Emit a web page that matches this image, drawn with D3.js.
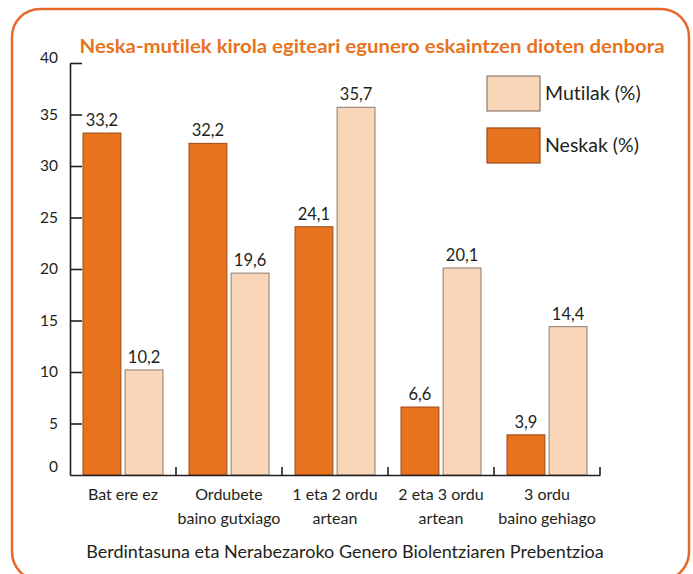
<!DOCTYPE html>
<html><head><meta charset="utf-8">
<script src="https://cdn.jsdelivr.net/npm/d3@7"></script>
<style>body{margin:0;background:#fff}svg{display:block}text{font-family:Lato,"Open Sans",sans-serif;font-variant-ligatures:none;font-feature-settings:"liga" 0,"clig" 0}</style>
</head><body>
<svg id="c" width="693" height="574"></svg>
<script>
const categories = [["Bat ere ez"],["Ordubete","baino gutxiago"],["1 eta 2 ordu","artean"],["2 eta 3 ordu","artean"],["3 ordu","baino gehiago"]];
const seriesNames = ["Neskak (%)","Mutilak (%)"];
const neskak = [33.2, 32.2, 24.1, 6.6, 3.9];
const mutilak = [10.2, 19.6, 35.7, 20.1, 14.4];
const yTicks = [0,5,10,15,20,25,30,35,40];
const title = "Neska-mutilek kirola egiteari egunero eskaintzen dioten denbora";
const source = "Berdintasuna eta Nerabezaroko Genero Biolentziaren Prebentzioa";

const colors = {"Neskak (%)":"#E8731E","Mutilak (%)":"#FAD6B8"};
const strokes = {"Neskak (%)":"#9c4a14","Mutilak (%)":"#8c7b6e"};
const svg = d3.select("#c");

svg.append("rect").attr("x",12).attr("y",9).attr("width",677).attr("height",571)
  .attr("rx",28).attr("fill","#fff").attr("stroke","#E8672A").attr("stroke-width",2.5);

svg.append("text").attr("x",372).attr("y",53).attr("text-anchor","middle")
  .attr("fill","#E8731E").attr("font-weight",700).attr("font-size",18)
  .attr("textLength",585).attr("lengthAdjust","spacingAndGlyphs").text(title);

const idx = d3.range(categories.length);
const x0 = d3.scaleBand().domain(idx).range([70,600]).padding(0);
const x1 = d3.scaleBand().domain(seriesNames).range([13, x0.bandwidth()-13]).paddingInner(0.1);
const y = d3.scaleLinear().domain([0,40]).range([475,63]);

const data = idx.flatMap(i => [
  {i, s:"Neskak (%)", v:neskak[i]},
  {i, s:"Mutilak (%)", v:mutilak[i]}
]);

svg.append("g").selectAll("rect").data(data).join("rect")
  .attr("x", d => x0(d.i)+x1(d.s)).attr("width", x1.bandwidth())
  .attr("y", d => y(d.v)).attr("height", d => y(0)-y(d.v))
  .attr("fill", d => colors[d.s]).attr("stroke", d => strokes[d.s]).attr("stroke-width",1);

svg.append("g").selectAll("text").data(data).join("text")
  .attr("x", d => x0(d.i)+x1(d.s)+x1.bandwidth()/2).attr("y", d => y(d.v)-7)
  .attr("text-anchor","middle").attr("font-size",16.5).attr("fill","#231f20")
  .text(d => d3.format(".1f")(d.v).replace(".",","));

// y axis
const yAxis = d3.axisLeft(y).tickValues(yTicks).tickSizeInner(-12).tickSizeOuter(0).tickPadding(12);
const gy = svg.append("g").attr("transform","translate(70,0)").call(yAxis);
gy.select(".domain").attr("stroke","#231f20").attr("stroke-width",1.6);
gy.selectAll(".tick line").attr("stroke","#231f20").attr("stroke-width",1.6)
  .attr("display", d => (d===0) ? "none" : null);
gy.selectAll(".tick text").attr("font-size",15.5).attr("fill","#231f20").attr("font-family","Lato,sans-serif")
  .attr("dy", d => d===0 ? "-0.25em" : d===40 ? "-0.05em" : "0.32em");

// x axis
const xAxis = d3.axisBottom(x0).tickValues([]).tickSizeOuter(0);
const gx = svg.append("g").attr("transform","translate(0,475)").call(xAxis);
gx.select(".domain").attr("stroke","#231f20").attr("stroke-width",1.6);
svg.append("g").selectAll("line").data(idx).join("line")
  .attr("x1", i => x0(i)+x0.bandwidth()).attr("x2", i => x0(i)+x0.bandwidth())
  .attr("y1",475).attr("y2",467).attr("stroke","#231f20").attr("stroke-width",1.6);

const xl = svg.append("g").selectAll("text").data(idx).join("text")
  .attr("text-anchor","middle").attr("font-size",16).attr("fill","#231f20");
xl.each(function(i){
  const t = d3.select(this);
  categories[i].forEach((line,k) => {
    t.append("tspan").attr("x", x0(i)+x0.bandwidth()/2).attr("y", 500 + k*24).text(line);
  });
});

// legend
const legend = [["Mutilak (%)",76],["Neskak (%)",128]];
const lg = svg.append("g").selectAll("g").data(legend).join("g");
lg.append("rect").attr("x",487).attr("y",d=>d[1]).attr("width",53).attr("height",35)
  .attr("fill",d=>colors[d[0]]).attr("stroke",d=>strokes[d[0]]).attr("stroke-width",1.2);
lg.append("text").attr("x",545).attr("y",d=>d[1]+24).attr("font-size",19.5).attr("fill","#231f20").text(d=>d[0]);

svg.append("text").attr("x",345).attr("y",558).attr("text-anchor","middle")
  .attr("font-size",18).attr("fill","#231f20").text(source);
</script>
</body></html>
